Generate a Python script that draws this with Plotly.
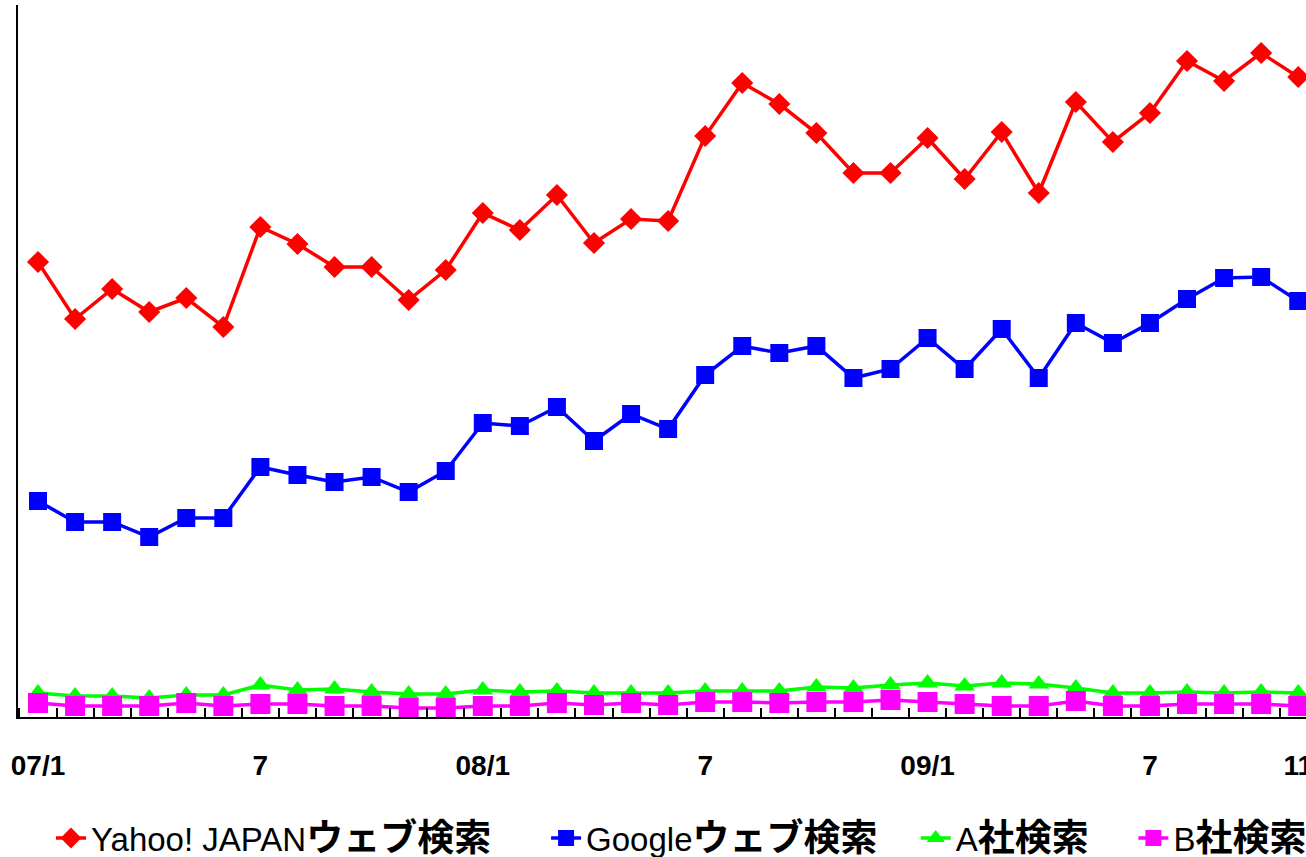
import plotly.graph_objects as go

# Month categories (2007/1 .. 2009/11)
months = [
    "07/1", "07/2", "07/3", "07/4", "07/5", "07/6", "07/7", "07/8", "07/9", "07/10", "07/11", "07/12",
    "08/1", "08/2", "08/3", "08/4", "08/5", "08/6", "08/7", "08/8", "08/9", "08/10", "08/11", "08/12",
    "09/1", "09/2", "09/3", "09/4", "09/5", "09/6", "09/7", "09/8", "09/9", "09/10", "09/11",
]

# Tick labels shown on the x axis
tick_months = ["07/1", "07/7", "08/1", "08/7", "09/1", "09/7", "09/11"]
tick_text = ["07/1", "7", "08/1", "7", "09/1", "7", "11"]

# Series values (relative units)
yahoo = [45.5, 39.8, 42.8, 40.5, 41.9, 39.0, 49.0, 47.3, 45.0, 45.0, 41.7, 44.7,
         50.4, 48.7, 52.2, 47.4, 49.8, 49.6, 58.1, 63.4, 61.3, 58.4, 54.4, 54.4,
         57.9, 53.8, 58.5, 52.4, 61.5, 57.5, 60.4, 65.6, 63.6, 66.4, 64.0]
google = [21.6, 19.5, 19.5, 18.0, 19.9, 19.9, 25.0, 24.2, 23.5, 24.0, 22.5, 24.6,
          29.4, 29.1, 31.0, 27.6, 30.3, 28.8, 34.2, 37.1, 36.4, 37.1, 33.9, 34.8,
          37.9, 34.8, 38.8, 33.9, 39.4, 37.4, 39.4, 41.8, 43.9, 44.0, 41.6]
company_a = [2.4, 2.1, 2.1, 1.9, 2.2, 2.2, 3.2, 2.7, 2.8, 2.5, 2.3, 2.3,
             2.7, 2.5, 2.6, 2.4, 2.4, 2.4, 2.6, 2.6, 2.6, 3.0, 2.9, 3.2,
             3.4, 3.1, 3.4, 3.3, 2.9, 2.4, 2.4, 2.5, 2.4, 2.5, 2.4]
company_b = [1.4, 1.1, 1.1, 1.1, 1.4, 1.1, 1.3, 1.3, 1.1, 1.1, 0.9, 0.9,
             1.1, 1.1, 1.4, 1.2, 1.4, 1.2, 1.5, 1.5, 1.4, 1.5, 1.5, 1.7,
             1.5, 1.3, 1.1, 1.1, 1.6, 1.1, 1.1, 1.3, 1.3, 1.3, 1.1]

latin_parts = ["Yahoo! JAPAN", "Google", "A", "B"]
cjk_parts = ["ウェブ検索", "ウェブ検索", "社検索", "社検索"]
series_values = [yahoo, google, company_a, company_b]
colors = ["#FF0000", "#0000FF", "#00FF00", "#FF00FF"]
symbols = ["diamond", "square", "triangle-up", "square"]
sizes = [17, 18, 18, 20]
legend_ids = ["legend", "legend2", "legend3", "legend4"]
legend_x = [0.0256, 0.410, 0.697, 0.866]

W, H = 1306, 857
ML, MR, MT, MB = 18, 0, 5, 140

xpos = list(range(len(months)))
tickvals = [months.index(m) for m in tick_months]

fig = go.Figure()
for lat, cjk, vals, col, sym, sz, lg in zip(latin_parts, cjk_parts, series_values, colors, symbols, sizes, legend_ids):
    name = lat + "<span style='font-size:37px;font-weight:bold'>" + cjk + "</span>"
    fig.add_trace(go.Scatter(
        x=xpos, y=vals, name=name, mode="lines+markers",
        line=dict(color=col, width=3.5),
        marker=dict(symbol=sym, size=sz, color=col, line=dict(width=0)),
        cliponaxis=False, legend=lg,
    ))

legend_font = dict(family="Liberation Sans, Arial, Noto Sans CJK JP", size=33, color="black")
layout_legends = {}
for lg, lx in zip(legend_ids, legend_x):
    layout_legends[lg] = dict(
        orientation="h", x=lx, xanchor="left", y=-0.17, yanchor="middle",
        font=legend_font, bgcolor="rgba(0,0,0,0)", borderwidth=0,
        itemsizing="trace", tracegroupgap=0,
    )

fig.update_layout(
    width=W, height=H,
    margin=dict(l=ML, r=MR, t=MT, b=MB, autoexpand=False),
    paper_bgcolor="white", plot_bgcolor="white",
    showlegend=True,
    **layout_legends,
    xaxis=dict(
        range=[-0.54, 34.21], showgrid=False, zeroline=False,
        showline=True, linecolor="black", linewidth=2,
        tickmode="array", tickvals=tickvals, ticktext=tick_text,
        ticks="", ticklabelstandoff=22, ticklabeloverflow="allow",
        tickfont=dict(family="Liberation Sans, Arial", size=28, color="black", weight="bold"),
        minor=dict(tick0=0.5, dtick=1, ticks="inside", ticklen=9, tickwidth=1.5, tickcolor="black", showgrid=False),
    ),
    yaxis=dict(
        range=[0, 71.2], showgrid=False, zeroline=False,
        showline=True, linecolor="black", linewidth=2,
        showticklabels=False, ticks="",
    ),
)

fig.write_html(
    "out.html",
    config={"displayModeBar": False},
    post_script="document.body.style.margin='0';document.body.style.overflow='hidden';",
)
